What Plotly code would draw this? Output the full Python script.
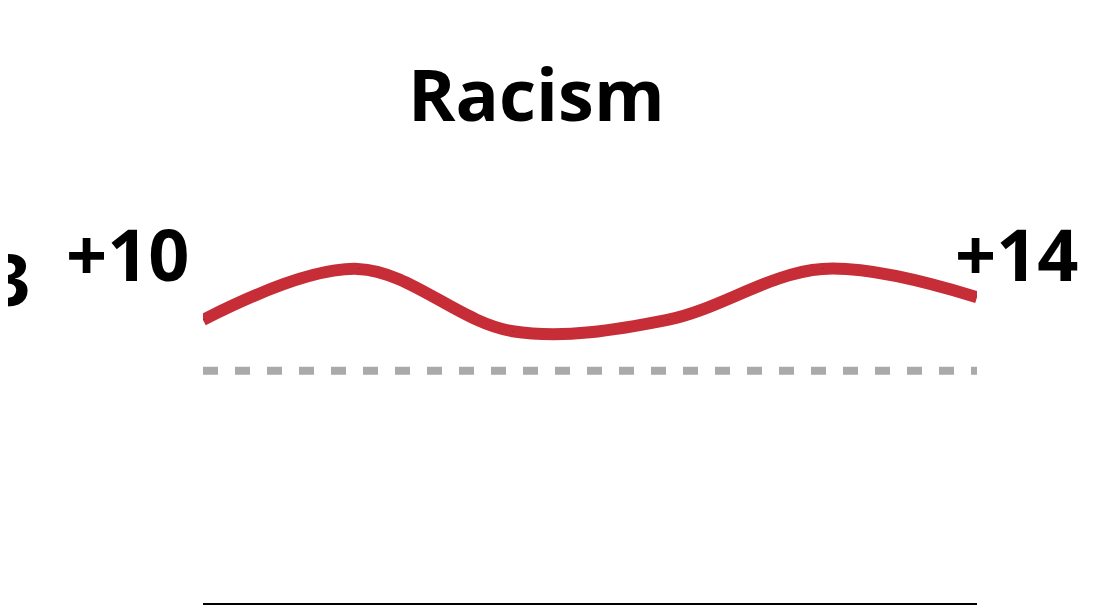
import plotly.graph_objects as go

# survey waves (unlabelled on the chart) and net scores
waves = [0, 1, 2, 3, 4, 5]
scores = [10, 19, 8, 10, 19, 14]
point_labels = ["+10", "+19", "+8", "+10", "+19", "+14"]
reference = 1

start_label = "+10"
end_label = "+14"
prev_label = "+13"

red = "#C62D36"

fig = go.Figure()

fig.add_trace(go.Scatter(
    x=[waves[0], waves[-1]], y=[reference, reference],
    mode="lines",
    line=dict(color="#AAAAAA", width=8, dash="15px,17px"),
    hoverinfo="skip", showlegend=False))

fig.add_trace(go.Scatter(
    x=waves, y=scores,
    mode="lines+text",
    line=dict(color=red, width=12, shape="spline", smoothing=1),
    text=point_labels, textposition="middle center",
    textfont=dict(size=2, color="#333333"),
    showlegend=False))

big = dict(family="Open Sans", size=72, color="black", weight="bold")
fig.add_annotation(x=waves[0], y=scores[0], text=start_label, showarrow=False,
                   xanchor="center", yanchor="middle", xshift=-75, yshift=67,
                   font=big)
fig.add_annotation(x=waves[-1], y=scores[-1], text=end_label, showarrow=False,
                   xanchor="center", yanchor="middle", xshift=40, yshift=44,
                   font=big)
fig.add_annotation(x=0, y=scores[0], xref="paper", text=prev_label, showarrow=False,
                   xanchor="right", yanchor="middle", xshift=-170, yshift=42,
                   font=big)

fig.update_layout(
    width=1117, height=605,
    margin=dict(l=195, r=148, t=142, b=10),
    paper_bgcolor="white", plot_bgcolor="white",
    title=dict(text="Racism", x=0.473, xanchor="center", y=0.855, yanchor="middle",
               font=dict(family="Open Sans", size=72, color="black", weight="bold")),
    xaxis=dict(range=[0, 5], showgrid=False, zeroline=False, showticklabels=False,
               showline=True, linecolor="black", linewidth=3, ticks=""),
    yaxis=dict(range=[-40, 40], showgrid=False, zeroline=False, showticklabels=False,
               showline=False, ticks=""),
)

fig.write_html("out.html")
